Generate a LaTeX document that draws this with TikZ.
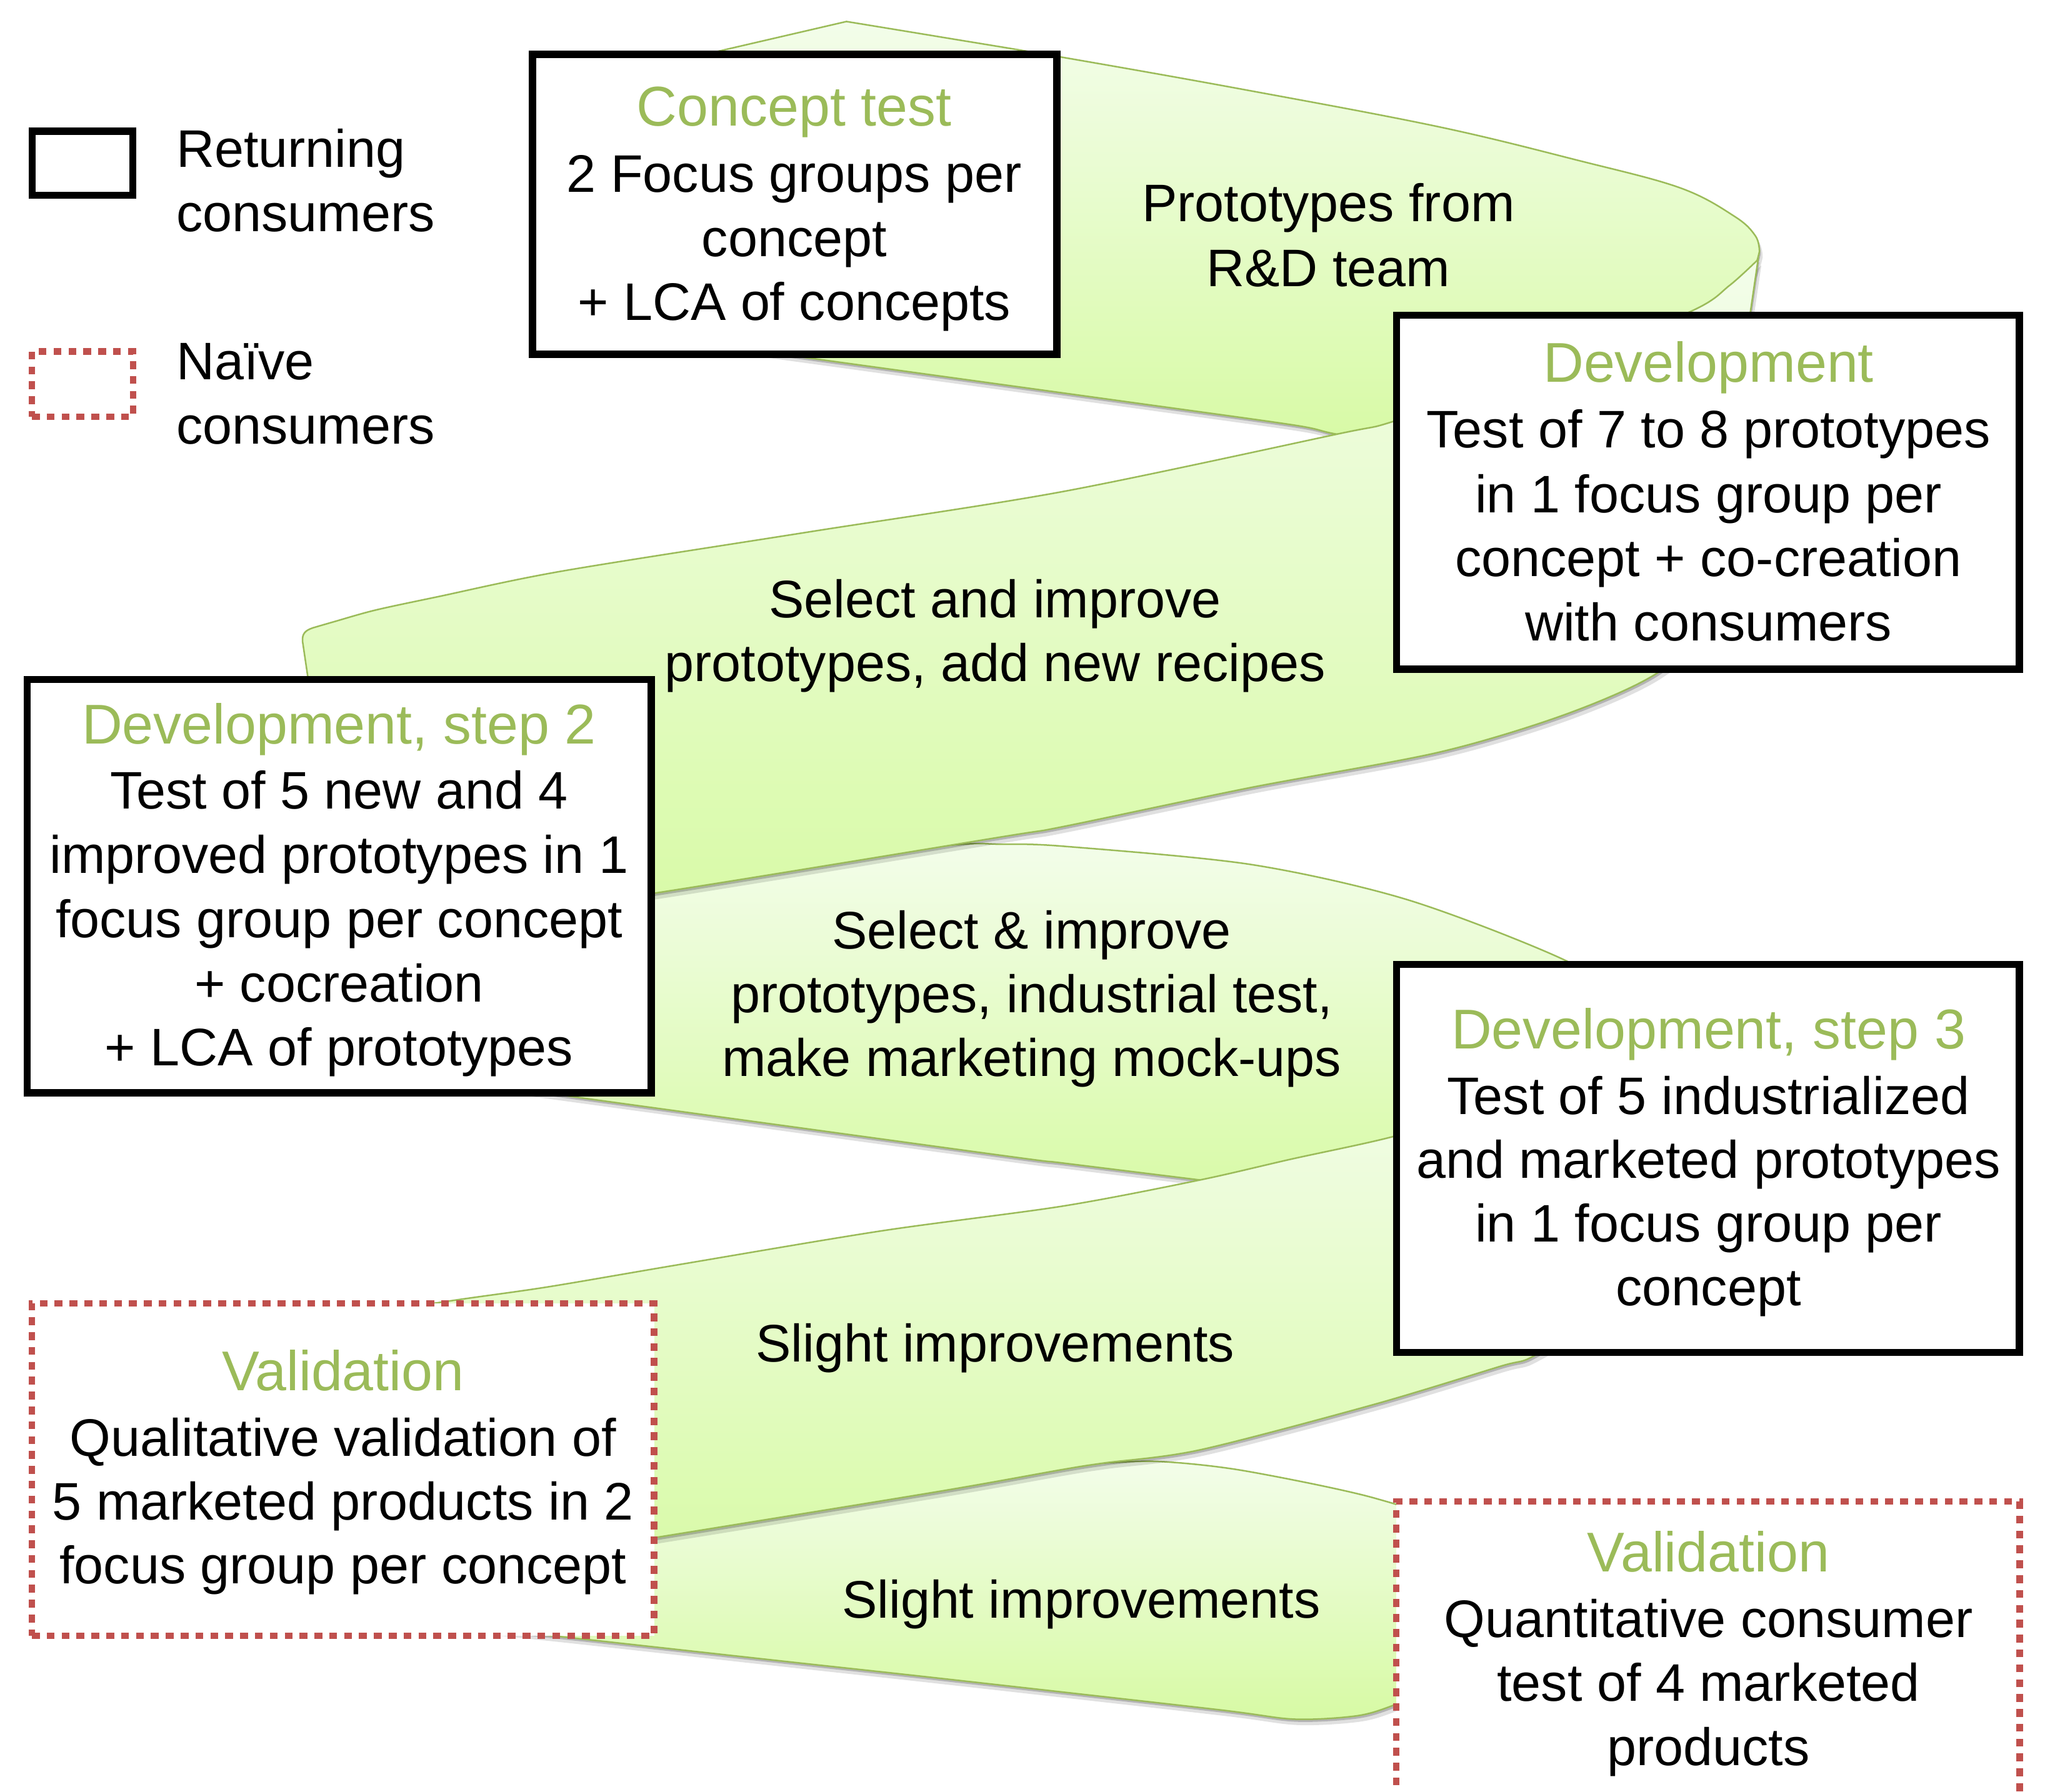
\documentclass[tikz,border=0pt]{standalone}
\usepackage{fontspec}
\setmainfont{Liberation Sans}
\definecolor{ttlgreen}{HTML}{9BBB59}
\definecolor{ribedge}{HTML}{9BBB59}
\definecolor{ribtop}{HTML}{F3FDEA}
\definecolor{ribbot}{HTML}{D7FAA4}
\definecolor{naivered}{HTML}{C0504D}
\tikzset{
  retbox/.style={draw=black, line width=5.5pt, fill=white, inner sep=0pt, outer sep=0pt},
  naivebox/.style={draw=naivered, line width=5pt, dash pattern=on 6pt off 5.4pt, fill=white, inner sep=0pt, outer sep=0pt},
  ttl/.style={anchor=base, text=ttlgreen, font=\fontsize{43}{50}\selectfont, inner sep=0pt},
  txt/.style={anchor=base, font=\fontsize{40.5}{48}\selectfont, inner sep=0pt},
  lgd/.style={anchor=base west, font=\fontsize{40.5}{48}\selectfont, inner sep=0pt},
  ribbon/.style={draw=ribedge, line width=1.2pt, top color=ribtop, bottom color=ribbot},
  ribshadeA/.style={fill=black, fill opacity=0.20, draw=none},
  ribshadeB/.style={fill=black, fill opacity=0.12, draw=none}
}
\newcommand\bandApath{(440,65) -- (649,16.5) -- plot[smooth,tension=0.6] coordinates {(649,16.5) (719,28) (815,44) (950,68) (1102,97) (1210,123) (1288,144) (1330,166) (1346,181) (1349,193)} -- plot[smooth] coordinates {(1349,193) (1340,218) (1300,290) (1200,338) (1100,345)} -- plot[smooth] coordinates {(1100,345) (1025,333) (992,326) (863,308) (616,274) (470,254)} -- cycle}
\newcommand\bandBpath{(250,722) -- (245,600) -- (236,519) -- (232,492) .. controls (231.5,486) and (234,483.5) .. (240,481.5) -- plot[smooth] coordinates {(240,481.5) (255.5,477) (287.5,468) (335.5,457.7) (431,438) (620,408) (815,377) (1025,333) (1069,323) (1180,285) (1296,239) (1326,219) (1348,199)} -- (1342,240) -- plot[smooth] coordinates {(1342,240) (1345,380) (1320,470) (1271,516) (1200,548) (1103,577) (959,604) (815,634) (767,642) (502,685) (250,722)} -- cycle}
\newcommand\bandCpath{(300,822) -- (300,700) -- plot[smooth] coordinates {(300,700) (502,676) (600,661) (731,648) (767,647.5) (815,649) (959,663) (1079,690) (1199,736) (1260,775) (1285,830) (1240,900) (1150,925) (1067,925) (1000,915) (920,905) (815,892) (767,886) (431,840) (300,822)} -- cycle}
\newcommand\bandDpath{plot[smooth] coordinates {(1250,820) (1150,848) (1067,872) (990,889) (920,905) (815,925) (676,944) (520,970) (420,987) (350,997) (250,1012)} -- (250,1220) -- plot[smooth] coordinates {(250,1220) (504,1179) (719,1144) (815,1127) (847,1122) (920,1112) (1054,1077) (1150,1048) (1176,1040) (1230,1005) (1275,940) (1285,860) (1250,820)} -- cycle}
\newcommand\bandEpath{plot[smooth] coordinates {(380,1182) (504,1167) (719,1134) (800,1126) (847,1122) (891,1121) (954,1128) (1054,1149) (1120,1175) (1150,1230) (1110,1290) (1068,1308) (1040,1316) (992,1318.5) (932,1311) (719,1287) (600,1274) (437,1256) (380,1250)} -- cycle}
\begin{document}
\begin{tikzpicture}[x=1pt, y=-1pt]
\useasboundingbox (0,0) rectangle (1568,1374);
\fill[white] (0,0) rectangle (1568,1374);
\clip (0,0) rectangle (1568,1374);
% ribbon, back to front
\fill[ribshadeB, shift={(2.5,4.5)}] \bandApath;
\fill[ribshadeA, shift={(1,2)}] \bandApath;
\path[ribbon] \bandApath;
\fill[ribshadeB, shift={(2.5,4.5)}] \bandCpath;
\fill[ribshadeA, shift={(1,2)}] \bandCpath;
\path[ribbon] \bandCpath;
\fill[ribshadeB, shift={(2.5,4.5)}] \bandEpath;
\fill[ribshadeA, shift={(1,2)}] \bandEpath;
\path[ribbon] \bandEpath;
\fill[ribshadeB, shift={(2.5,4.5)}] \bandBpath;
\fill[ribshadeA, shift={(1,2)}] \bandBpath;
\path[ribbon] \bandBpath;
\fill[ribshadeB, shift={(2.5,4.5)}] \bandDpath;
\fill[ribshadeA, shift={(1,2)}] \bandDpath;
\path[ribbon] \bandDpath;
% legend
\node[retbox, minimum width=77pt, minimum height=49pt] (legret) at (63.25,125.2) {};
\node[naivebox, minimum width=77.5pt, minimum height=50pt] (legnaive) at (63.25,294.5) {};
\node[lgd] (legret1) at (135,128.4) {Returning};
\node[lgd] (legret2) at (135,177.6) {consumers};
\node[lgd] (legnaive1) at (135,291) {Naïve};
\node[lgd] (legnaive2) at (135,340.5) {consumers};
% boxes
\node[retbox, minimum width=402pt, minimum height=230pt] (concept) at (609.25,156.75) {};
\node[retbox, minimum width=477.5pt, minimum height=271.5pt] (dev1) at (1309.5,377.5) {};
\node[retbox, minimum width=478.5pt, minimum height=317pt] (dev2) at (260,679.75) {};
\node[retbox, minimum width=477.5pt, minimum height=297.5pt] (dev3) at (1309.5,888.5) {};
\node[naivebox, minimum width=477pt, minimum height=255pt] (val1) at (263,1127) {};
\node[naivebox, minimum width=478pt, minimum height=280pt] (val2) at (1309.5,1291.5) {};
% box texts
\node[ttl] (concept-t) at (609,96.5) {Concept test};
\node[txt] (concept-1) at (609,147.5) {2 Focus groups per};
\node[txt] (concept-2) at (609,196.5) {concept};
\node[txt] (concept-3) at (609,245.5) {+ LCA of concepts};
\node[ttl] (dev1-t) at (1310,293) {Development};
\node[txt] (dev1-1) at (1310,343.5) {Test of 7 to 8 prototypes};
\node[txt] (dev1-2) at (1310,393) {in 1 focus group per};
\node[txt] (dev1-3) at (1310,442) {concept + co-creation};
\node[txt] (dev1-4) at (1310,491.5) {with consumers};
\node[ttl] (dev2-t) at (260,570.5) {Development, step 2};
\node[txt] (dev2-1) at (260,620.5) {Test of 5 new and 4};
\node[txt] (dev2-2) at (260,669.8) {improved prototypes in 1};
\node[txt] (dev2-3) at (260,719.1) {focus group per concept};
\node[txt] (dev2-4) at (260,768.3) {+ cocreation};
\node[txt] (dev2-5) at (260,817.3) {+ LCA of prototypes};
\node[ttl] (dev3-t) at (1310,804.3) {Development, step 3};
\node[txt] (dev3-1) at (1310,854.5) {Test of 5 industrialized};
\node[txt] (dev3-2) at (1310,903.5) {and marketed prototypes};
\node[txt] (dev3-3) at (1310,952.5) {in 1 focus group per};
\node[txt] (dev3-4) at (1310,1001.5) {concept};
\node[ttl] (val1-t) at (263,1066.3) {Validation};
\node[txt] (val1-1) at (263,1116.9) {Qualitative validation of};
\node[txt] (val1-2) at (263,1165.8) {5 marketed products in 2};
\node[txt] (val1-3) at (263,1214.7) {focus group per concept};
\node[ttl] (val2-t) at (1310,1205.6) {Validation};
\node[txt] (val2-1) at (1310,1255.8) {Quantitative consumer};
\node[txt] (val2-2) at (1310,1304.7) {test of 4 marketed};
\node[txt] (val2-3) at (1310,1354) {products};
% ribbon labels
\node[txt] (r1a) at (1018.5,170) {Prototypes from};
\node[txt] (r1b) at (1018.5,219.5) {R\&D team};
\node[txt] (r2a) at (763,473.5) {Select and improve};
\node[txt] (r2b) at (763,522.5) {prototypes, add new recipes};
\node[txt] (r3a) at (791,727.5) {Select \& improve};
\node[txt] (r3b) at (791,776.5) {prototypes, industrial test,};
\node[txt] (r3c) at (791,825.5) {make marketing mock-ups};
\node[txt] (r4a) at (763,1044.5) {Slight improvements};
\node[txt] (r5a) at (829,1241) {Slight improvements};
\end{tikzpicture}
\end{document}
